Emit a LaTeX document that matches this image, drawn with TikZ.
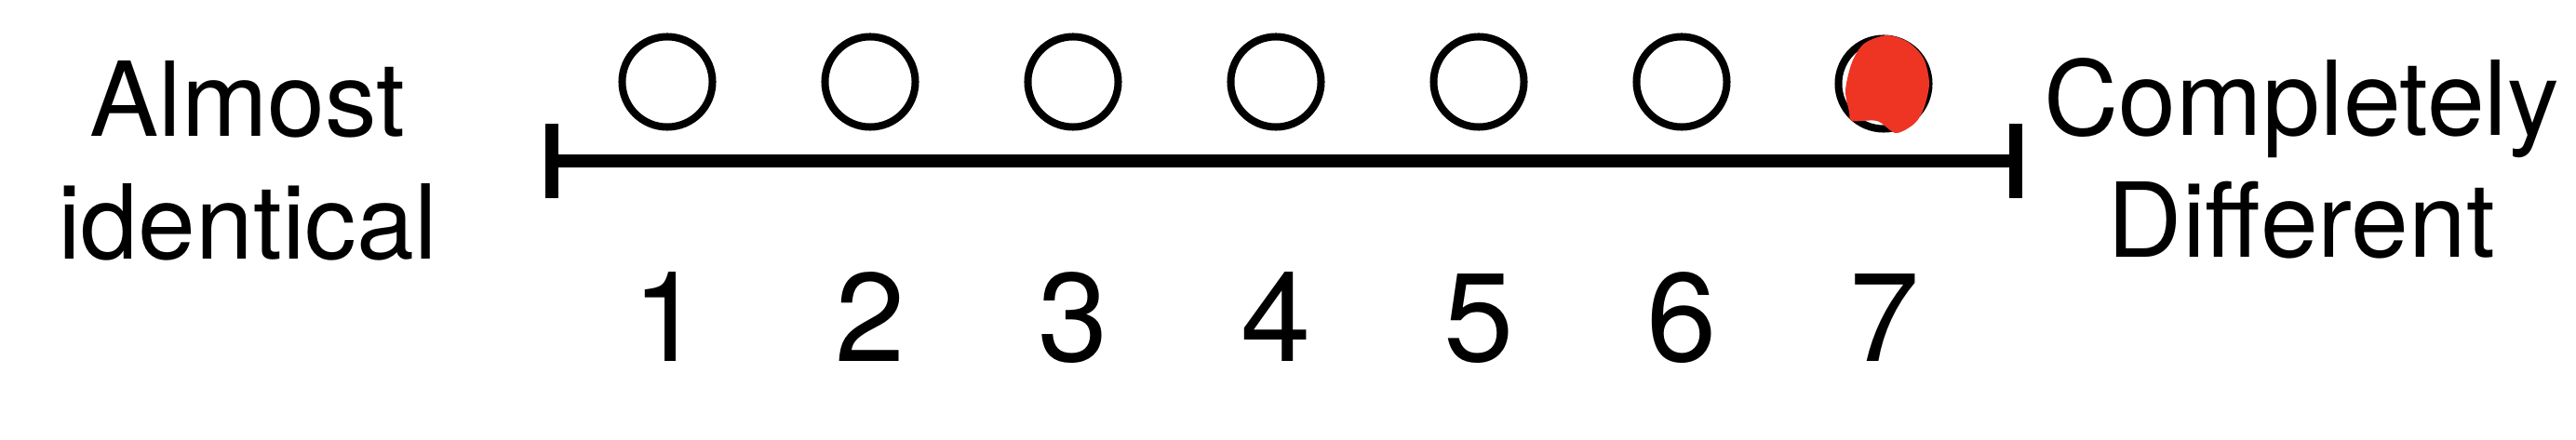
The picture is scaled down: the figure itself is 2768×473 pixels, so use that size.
\documentclass[tikz,border=0pt]{standalone}
\usepackage{fontspec}
\setmainfont{TeX Gyre Heros}
\usetikzlibrary{arrows.meta}
\definecolor{marca}{RGB}{238,53,36}
\begin{document}
\begin{tikzpicture}[x=0.01cm, y=-0.01cm]
% Estilos
\tikzset{
  opcao/.style={circle, draw, line width=0.08cm, minimum size=0.97cm, inner sep=0pt},
  numero/.style={anchor=base, inner sep=0pt, font=\fontsize{38.5}{40}\selectfont},
  rotulo/.style={anchor=base, align=center, inner sep=0pt, font=\fontsize{31.6}{37.3}\selectfont}
}
\useasboundingbox[fill=white] (0,0) rectangle (2768,473);

% Opcoes da escala
\node[opcao] (c1) at (717,88) {};
\node[opcao] (c2) at (935,88) {};
\node[opcao] (c3) at (1153,88) {};
\node[opcao] (c4) at (1371,88) {};
\node[opcao] (c5) at (1589,88) {};
\node[opcao] (c6) at (1807,88) {};
\node[opcao] (c7) at (2024,90) {};

% Marca vermelha
\fill[marca] plot[smooth cycle] coordinates {(2027,38) (2050,45) (2067,63) (2073,90)
  (2067,117) (2057,133) (2037,143) (2017,130) (1990,130) (1987,120) (1983,97)
  (1990,67) (2003,47)};

% Eixo
\coordinate (ini) at (586,173);
\coordinate (fim) at (2173,173);
\draw[line width=0.14cm, {Bar[width=0.8cm]}-{Bar[width=0.8cm]}] (ini) -- (fim);

% Numeros
\node[numero] (n1) at (717,389) {1};
\node[numero] (n2) at (935,389) {2};
\node[numero] (n3) at (1153,389) {3};
\node[numero] (n4) at (1371,389) {4};
\node[numero] (n5) at (1589,389) {5};
\node[numero] (n6) at (1807,389) {6};
\node[numero] (n7) at (2025,389) {7};

% Rotulos
\node[rotulo] (esq) at (266,278) {Almost\\identical};
\node[rotulo] (dir) at (2473,277) {Completely\\Different};

\end{tikzpicture}
\end{document}
